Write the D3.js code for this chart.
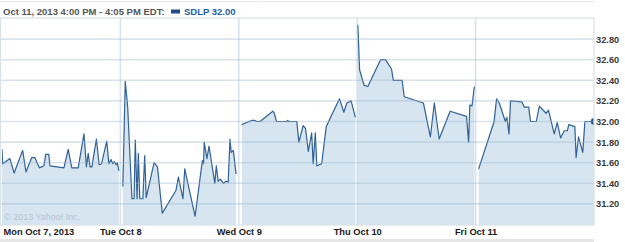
<!DOCTYPE html>
<html>
<head>
<meta charset="utf-8">
<script src="https://cdn.jsdelivr.net/npm/d3@7"></script>
<style>
	body { margin: 0; background: #fff; }
	svg { display: block; }
</style>
</head>
<body>
<div class="chart"></div>
<script>
// day labels along the bottom
const days = ["Mon Oct 7, 2013", "Tue Oct 8", "Wed Oct 9", "Thu Oct 10", "Fri Oct 11"];
const yTicks = [31.2, 31.4, 31.6, 31.8, 32.0, 32.2, 32.4, 32.6, 32.8];

// trades: minutes after the 9:30 open, and price
const monMin = [0, 2, 26, 40, 68, 79, 98, 108, 123, 138, 144, 154, 158, 204, 218, 230, 251, 270, 278, 284, 290, 296, 311, 320, 328, 345, 352, 359, 365, 370, 376, 380, 385];
const monPx = [31.73, 31.59, 31.64, 31.50, 31.72, 31.51, 31.65, 31.65, 31.55, 31.57, 31.68, 31.68, 31.57, 31.55, 31.73, 31.55, 31.55, 31.88, 31.56, 31.69, 31.56, 31.56, 31.83, 31.58, 31.59, 31.81, 31.59, 31.63, 31.59, 31.61, 31.58, 31.60, 31.52];

const tueMin = [8, 16, 24, 38, 45, 49, 55, 59, 64, 74, 80, 85, 111, 122, 138, 183, 191, 206, 212, 246, 270, 274, 276, 285, 292, 311, 316, 322, 329, 340, 348, 355, 361, 365, 372, 381];
const tuePx = [31.37, 32.39, 32.14, 31.25, 31.25, 31.82, 31.25, 31.69, 31.25, 31.25, 31.67, 31.26, 31.60, 31.56, 31.11, 31.33, 31.46, 31.25, 31.54, 31.08, 31.62, 31.59, 31.80, 31.64, 31.76, 31.40, 31.57, 31.42, 31.44, 31.40, 31.42, 31.41, 31.83, 31.70, 31.72, 31.49];

const wedMin = [10, 26, 42, 53, 59, 70, 112, 117, 124, 158, 161, 165, 191, 198, 212, 220, 229, 240, 245, 252, 257, 273, 288, 296, 307, 332, 346, 356, 370, 384];
const wedPx = [31.97, 31.99, 32.01, 32.01, 32.00, 32.00, 32.10, 32.08, 32.00, 32.00, 32.01, 32.00, 32.00, 31.80, 31.96, 31.93, 31.71, 31.89, 31.59, 31.89, 31.57, 31.59, 31.95, 32.00, 32.07, 32.22, 32.09, 32.18, 32.20, 32.04];

const thuMin = [2, 8, 23, 35, 77, 93, 113, 119, 148, 155, 218, 241, 254, 270, 306, 360, 367, 371, 378, 386];
const thuPx = [32.94, 32.50, 32.35, 32.34, 32.60, 32.60, 32.51, 32.40, 32.40, 32.24, 32.18, 31.85, 32.18, 31.83, 32.10, 32.05, 31.80, 32.16, 32.15, 32.34];

const friMin = [10, 61, 69, 78, 98, 103, 110, 115, 153, 160, 175, 181, 200, 210, 232, 240, 259, 269, 280, 292, 302, 307, 327, 331, 339, 353, 360, 377, 390];
const friPx = [31.54, 32.00, 32.22, 32.18, 32.00, 32.04, 31.88, 32.20, 32.19, 32.14, 32.14, 32.00, 32.00, 32.15, 32.08, 32.11, 31.88, 31.99, 31.84, 31.91, 31.91, 31.97, 31.95, 31.65, 31.85, 31.70, 32.00, 32.00, 32.00];

const dayMins = [monMin, tueMin, wedMin, thuMin, friMin];
const dayPx = [monPx, tuePx, wedPx, thuPx, friPx];
const session = 390;

const width = 625, height = 242;
const plot = { left: 2, right: 594, top: 18, bottom: 225 };
const font = "'Liberation Sans', Arial, sans-serif";

const x = d3.scaleLinear().domain([0, 5 * session]).range([plot.left, plot.right]);
const y = d3.scaleLinear().domain([31, 33]).range([224.5, 18.5]);

const svg = d3.select(".chart").append("svg")
	.attr("width", width)
	.attr("height", height);

svg.append("defs").append("clipPath").attr("id", "clip")
	.append("rect")
	.attr("x", plot.left).attr("y", plot.top)
	.attr("width", plot.right - plot.left).attr("height", plot.bottom - plot.top);

// one series per trading day
const series = dayMins.map((mins, i) =>
	mins.map((m, j) => ({ t: i * session + m, v: dayPx[i][j] })));

const area = d3.area().x((d) => x(d.t)).y0(plot.bottom).y1((d) => y(d.v));
const line = d3.line().x((d) => x(d.t)).y((d) => y(d.v));

const g = svg.append("g").attr("clip-path", "url(#clip)");

g.selectAll(".area").data(series).enter()
	.append("path")
	.attr("class", "area")
	.attr("d", area)
	.attr("fill", "#d6e5f0");

svg.append("text")
	.attr("x", 4).attr("y", 220)
	.attr("font-family", font).attr("font-size", 9)
	.attr("fill", "#b4c4d2")
	.text("\u00a9 2013 Yahoo! Inc.");

// grid
const grid = svg.append("g");
grid.selectAll(".hg").data(yTicks).enter()
	.append("line")
	.attr("x1", 0).attr("x2", plot.right)
	.attr("y1", (d) => y(d)).attr("y2", (d) => y(d))
	.attr("stroke", "#9fb6cb").attr("stroke-opacity", 0.38).attr("stroke-width", 1.6);

grid.selectAll(".vg").data([1, 2, 3, 4]).enter()
	.append("line")
	.attr("x1", (d) => x(d * session)).attr("x2", (d) => x(d * session))
	.attr("y1", plot.top).attr("y2", plot.bottom)
	.attr("stroke", "#9fb6cb").attr("stroke-opacity", 0.38).attr("stroke-width", 1.6);

// frame
grid.append("rect")
	.attr("x", 0.5).attr("y", plot.top)
	.attr("width", plot.right - 0.5).attr("height", plot.bottom - plot.top)
	.attr("fill", "none").attr("stroke", "#d9e1e8").attr("stroke-width", 1.2);
grid.append("line")
	.attr("x1", 0).attr("x2", plot.right).attr("y1", 1.5).attr("y2", 1.5)
	.attr("stroke", "#e4e9ee").attr("stroke-width", 1);
grid.append("rect")
	.attr("x", 0).attr("y", 239).attr("width", plot.right).attr("height", 3)
	.attr("fill", "#e6e6e6");

g.selectAll(".line").data(series).enter()
	.append("path")
	.attr("class", "line")
	.attr("d", line)
	.attr("fill", "none")
	.attr("stroke", "#2f6096")
	.attr("stroke-width", 1.2)
	.attr("stroke-linejoin", "round");

// last trade marker
const last = series[4][series[4].length - 1];
g.append("circle")
	.attr("cx", x(last.t)).attr("cy", y(last.v))
	.attr("r", 3.2)
	.attr("fill", "#1f4f86");

// right price axis
const yAxis = d3.axisRight(y).tickValues(yTicks).tickSize(0).tickPadding(0)
	.tickFormat(d3.format(".2f"));
svg.append("g")
	.attr("class", "axis y-axis")
	.attr("transform", `translate(${plot.right + 2},0)`)
	.call(yAxis)
	.call((a) => a.select(".domain").remove())
	.selectAll("text")
	.attr("font-family", font).attr("font-size", 9.3).attr("font-weight", "bold")
	.attr("fill", "#3a3a3a");

// bottom day labels
const xAxis = d3.axisBottom(x).tickValues(days.map((d, i) => i * session))
	.tickSize(0).tickPadding(0)
	.tickFormat((d, i) => days[i]);
const xa = svg.append("g")
	.attr("class", "axis x-axis")
	.attr("transform", `translate(0,${plot.bottom + 3})`)
	.call(xAxis)
	.call((a) => a.select(".domain").remove());
xa.selectAll("text")
	.attr("font-family", font).attr("font-size", 9.3).attr("font-weight", "bold")
	.attr("fill", "#1a1a1a")
	.attr("text-anchor", (d, i) => (i === 0 ? "start" : "middle"))
	.attr("dx", (d, i) => (i === 0 ? 1 : 0));

// header legend
const head = svg.append("g").attr("font-family", font).attr("font-size", 9.5).attr("font-weight", "bold");
head.append("text")
	.attr("x", 3).attr("y", 14.5)
	.attr("fill", "#555")
	.text("Oct 11, 2013 4:00 PM - 4:05 PM EDT:");
head.append("rect")
	.attr("x", 171).attr("y", 9.5).attr("width", 9).attr("height", 4)
	.attr("fill", "#1f4f86");
head.append("text")
	.attr("x", 184).attr("y", 14.5)
	.attr("fill", "#22609e")
	.text("SDLP 32.00");
</script>
</body>
</html>
